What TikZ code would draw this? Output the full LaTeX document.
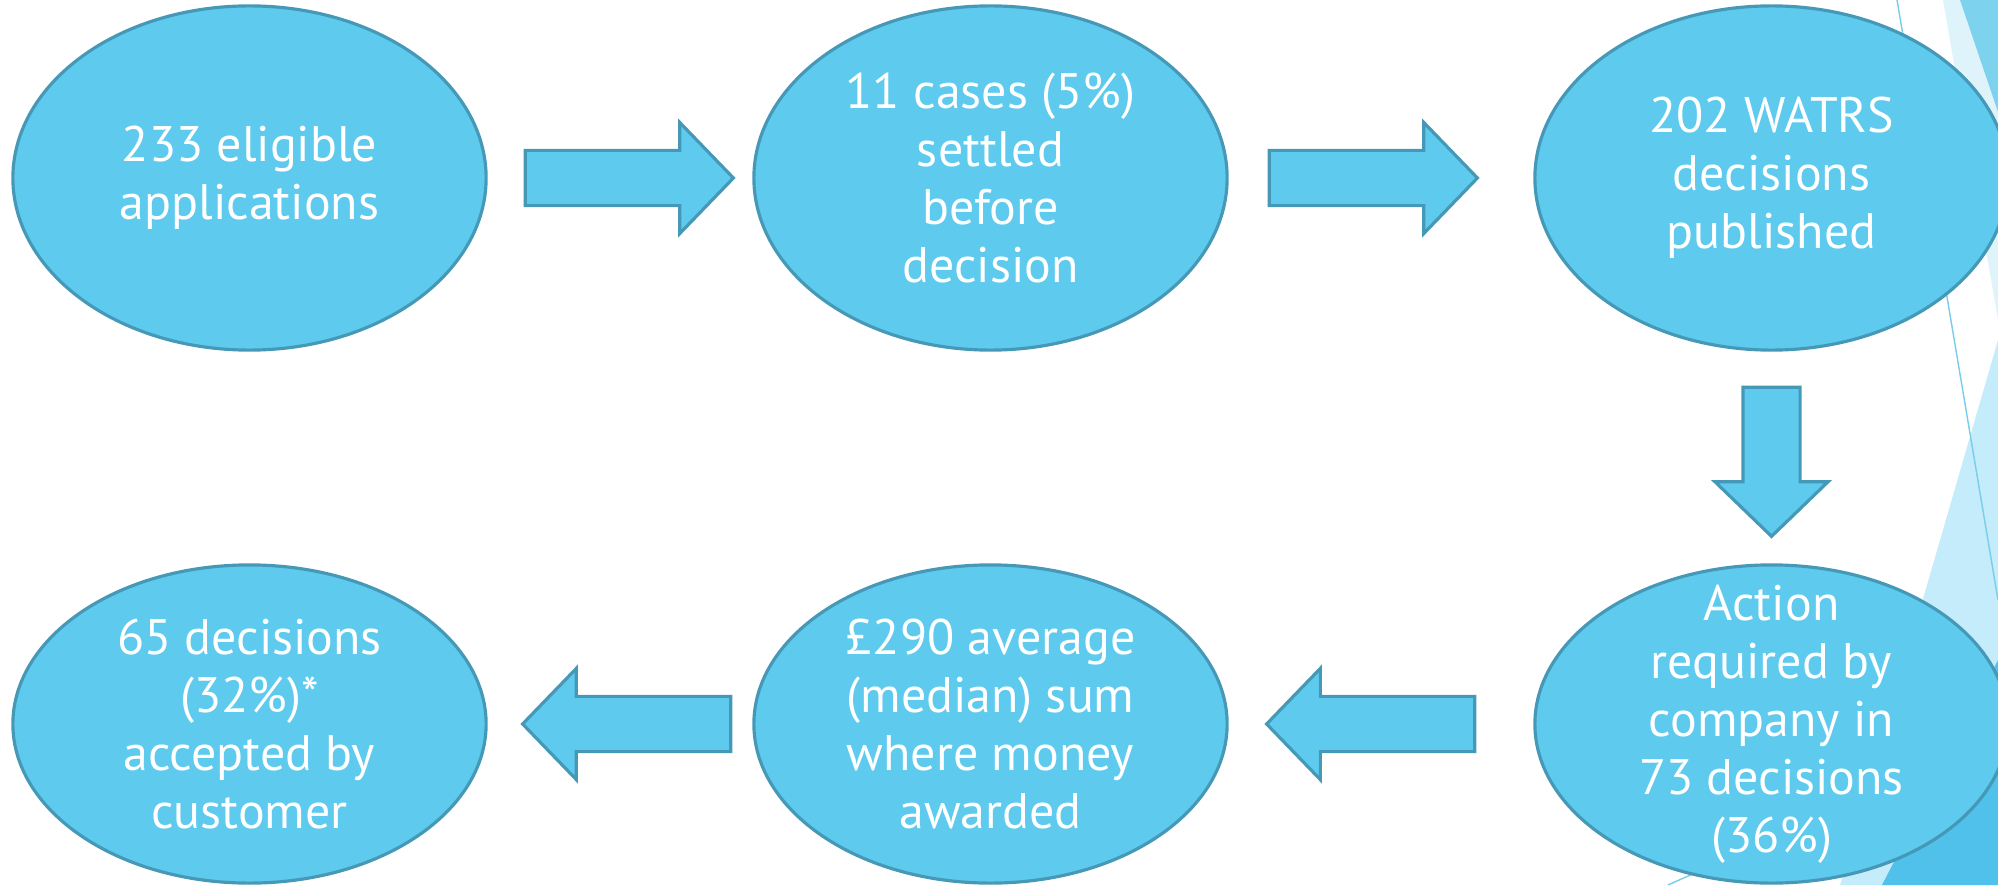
\documentclass[tikz,border=0pt]{standalone}
\usepackage{fontspec}
\setmainfont{PT Sans}
\usetikzlibrary{shapes.geometric,shapes.arrows,calc}
\definecolor{bubblefill}{RGB}{94,202,238}
\definecolor{bubbleline}{RGB}{69,153,183}
\definecolor{facetpale}{RGB}{223,243,251}
\definecolor{facetlight}{RGB}{197,236,250}
\definecolor{facetmid}{RGB}{125,210,238}
\definecolor{facetdeep}{RGB}{80,193,234}
\definecolor{facetrule}{RGB}{120,205,235}
\tikzset{
  bubble/.style={ellipse, draw=bubbleline, fill=bubblefill, line width=0.9pt,
    minimum width=4.73cm, inner sep=0pt},
  bubbletext/.style={text=white, align=center, inner sep=0pt,
    font=\fontsize{14.2}{16.5}\selectfont},
  blockarrow/.style={single arrow, draw=bubbleline, fill=bubblefill, line width=0.9pt,
    minimum height=2.08cm, minimum width=1.08cm, inner xsep=0pt, inner ysep=0.26cm,
    single arrow head extend=0.28cm, single arrow tip angle=92}
}
\begin{document}
\begin{tikzpicture}[x=0.01cm,y=-0.01cm]
\useasboundingbox (0,0) rectangle (1998,885);
% facet strips on the right edge
\begin{scope}
\clip (0,0) rectangle (1998,885);
\fill[facetpale] (1943,0) -- (1998,0) -- (1998,320) -- cycle;
\fill[facetmid] (1960,0) -- (1998,0) -- (1998,112) -- cycle;
\fill[facetlight] (1998,340) -- (1840,885) -- (1998,885) -- cycle;
\fill[facetdeep] (1998,660) -- (1882,885) -- (1998,885) -- cycle;
\draw[facetrule, line width=0.4pt] (1897,0) -- (1998,600);
\draw[facetrule, line width=0.4pt] (1668,885) -- (1998,737);
\end{scope}

% top row
\node[bubble, minimum height=3.44cm,
  label={[bubbletext]center:{233 eligible\\applications}}] (apps) at (249.5,178) {};
\node[bubble, minimum height=3.44cm,
  label={[bubbletext]center:{11 cases (5\%)\\settled\\before\\decision}}] (settled) at (990.5,178) {};
\node[bubble, minimum height=3.44cm,
  label={[bubbletext]center:{202 WATRS\\decisions\\published}}] (published) at (1771.5,178) {};

% bottom row
\node[bubble, minimum height=3.18cm,
  label={[bubbletext]center:{Action\\required by\\company in\\73 decisions\\(36\%)}}] (action) at (1771.5,724) {};
\node[bubble, minimum height=3.18cm,
  label={[bubbletext]center:{£290 average\\(median) sum\\where money\\awarded}}] (median) at (990.5,724) {};
\node[bubble, minimum height=3.18cm,
  label={[bubbletext]center:{65 decisions\\(32\%)*\\accepted by\\customer}}] (accepted) at (249.5,724) {};

% block arrows between the bubbles
\node[blockarrow] (a1) at ($(apps.east)!0.5!(settled.west)+(-4,0)$) {};
\node[blockarrow] (a2) at ($(settled.east)!0.5!(published.west)+(-21,0)$) {};
\node[blockarrow, minimum height=1.49cm, inner xsep=0.27cm, inner ysep=0pt,
  shape border rotate=270] (a3) at ($(published.south)!0.5!(action.north)+(0,-9.5)$) {};
\node[blockarrow, shape border rotate=180] (a4) at ($(action.west)!0.5!(median.east)+(3,0)$) {};
\node[blockarrow, shape border rotate=180] (a5) at ($(median.west)!0.5!(accepted.east)+(20,0)$) {};
\end{tikzpicture}
\end{document}
